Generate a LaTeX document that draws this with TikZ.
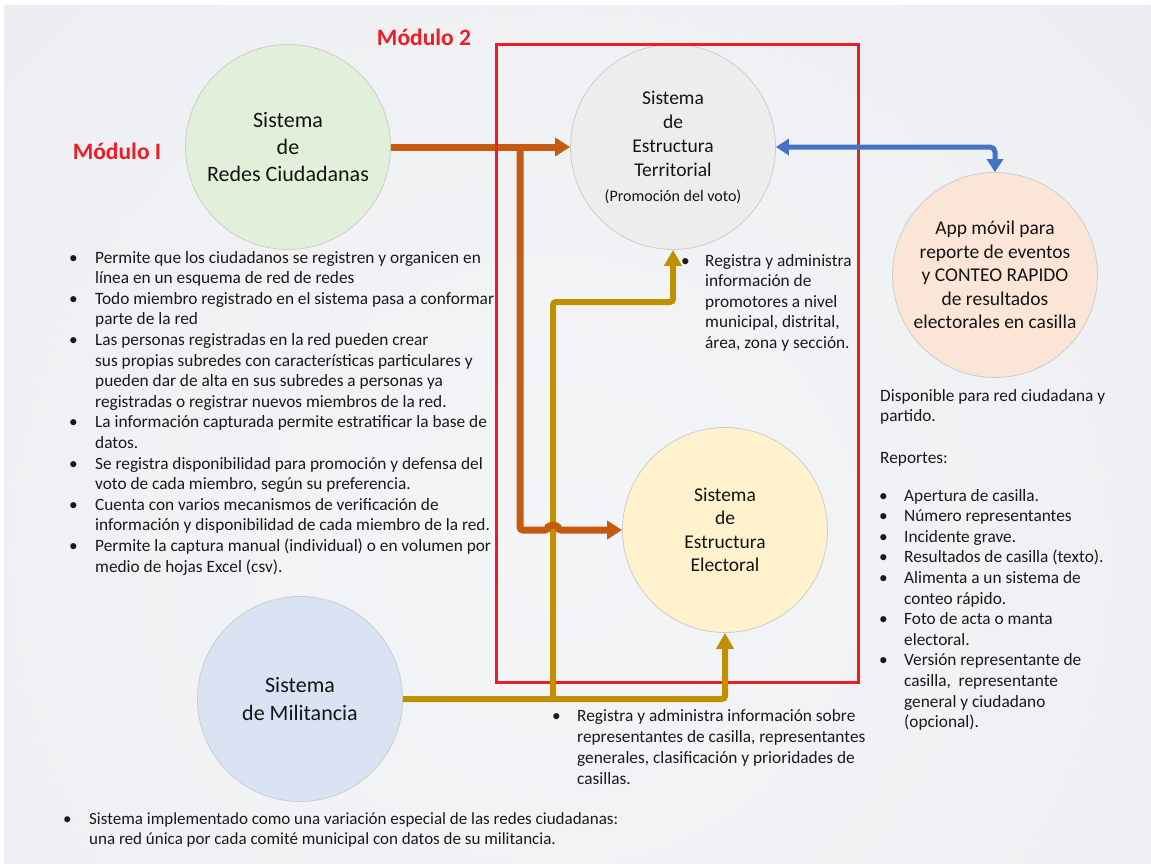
\documentclass[tikz,border=0pt]{standalone}
\usepackage{fontspec}
\setmainfont{Carlito}
\usetikzlibrary{arrows.meta}
\definecolor{orln}{HTML}{C55A11}
\definecolor{gdln}{HTML}{BF9000}
\definecolor{blln}{HTML}{4472C4}
\definecolor{mred}{HTML}{EE1C25}
\definecolor{cgreen}{HTML}{E2EFDA}
\definecolor{cgray}{HTML}{EDEDED}
\definecolor{cpeach}{HTML}{FBE5D6}
\definecolor{cyell}{HTML}{FFF2CC}
\definecolor{cblue}{HTML}{DAE3F3}
\definecolor{cborder}{HTML}{CDCDCD}
\definecolor{bgA}{HTML}{F4F5F7}
\definecolor{bgB}{HTML}{EFF0F3}
\definecolor{bgC}{HTML}{E7E9ED}
\definecolor{bgD}{HTML}{D8DCE2}
\definecolor{bgE}{HTML}{D2D6DD}
\pgfdeclareradialshading{bgshade}{\pgfpoint{0bp}{0bp}}{color(0bp)=(bgA); color(17bp)=(bgB); color(32bp)=(bgC); color(45bp)=(bgD); color(50bp)=(bgE)}
\newcommand\mybul[1]{\makebox[#1][l]{\textbullet}}
\newcommand\myind[1]{\hspace*{#1}}
\tikzset{
  sys/.style={circle, draw=cborder, line width=0.8pt, minimum size=205pt, inner sep=0pt, align=center, text=black!92},
  body/.style={font=\fontsize{17.3}{20.6}\selectfont, inner sep=0pt, anchor=base west, text=black!90},
  modlbl/.style={text=mred, font=\bfseries\fontsize{23.5}{27}\selectfont, inner sep=0pt},
  orarrow/.style={draw=orln, line width=7pt, -{Triangle[length=15pt,width=18pt]}},
  gdarrow/.style={draw=gdln, line width=6pt, rounded corners=3pt, -{Triangle[length=16pt,width=17pt]}},
  blarrow/.style={draw=blln, line width=5pt, rounded corners=5pt, {Triangle[length=13pt,width=16pt]}-{Triangle[length=13pt,width=16pt]}}
}
\begin{document}
\begin{tikzpicture}[x=1pt,y=-1pt]
\useasboundingbox (0,0) rectangle (1151,865);
\fill[white] (0,0) rectangle (1151,865);
\begin{scope}
\clip (4,5) rectangle (1151,863);
\shade[shading=bgshade] (-340,-340) rectangle (1460,1460);
\end{scope}

% circles
\node[sys, fill=cgreen, font=\fontsize{22}{27}\selectfont] (c1) at (288,147) {Sistema\\de\\Redes Ciudadanas};
\node[sys, fill=cgray, font=\fontsize{19.5}{24}\selectfont] (c2) at (673,147) {Sistema\\de\\Estructura\\Territorial\\[1pt]{\fontsize{16}{19}\selectfont (Promoción del voto)}};
\node[sys, fill=cpeach, font=\fontsize{19.5}{23.5}\selectfont] (c3) at (995,275) {App móvil para\\reporte de eventos\\y CONTEO RAPIDO\\de resultados\\electorales en casilla};
\node[sys, fill=cyell, font=\fontsize{19.5}{23.5}\selectfont] (c4) at (725,530) {Sistema\\de\\Estructura\\Electoral};
\node[sys, fill=cblue, font=\fontsize{22}{28}\selectfont] (c5) at (300,699) {Sistema\\de Militancia};

% labels
\node[modlbl] (m1) at (117,151) {Módulo I};
\node[modlbl] (m2) at (424,37) {Módulo 2};

% orange top arrow
\draw[orarrow] (c1.east) -- (c2.west);

% red module box
\draw[mred, line width=3pt] (496,44) rectangle (858,682);

% gold connectors
\coordinate (gj) at (553,699);
\coordinate (gt) at (553,302);
\draw[gdarrow] (c5.east) -| (c4.south);
\draw[gdarrow] (gj) -- (gt) -| (c2.south);

% orange branch with hop
\coordinate (oj) at (520,147);
\coordinate (hop) at (548,530);
\draw[orarrow, rounded corners=3pt] (oj) |- (hop) arc[start angle=180, end angle=0, radius=5pt] -- (c4.west);

% blue double arrow
\draw[blarrow] (c2.east) -| (c3.north);

% text blocks
\node[body] (t1) at (69,263) {\begin{tabular}[t]{@{}l@{}}
\mybul{26pt}Permite que los ciudadanos se registren y organicen en\\
\myind{26pt}línea en un esquema de red de redes\\
\mybul{26pt}Todo miembro registrado en el sistema pasa a conformar\\
\myind{26pt}parte de la red\\
\mybul{26pt}Las personas registradas en la red pueden crear\\
\myind{26pt}sus propias subredes con características particulares y\\
\myind{26pt}pueden dar de alta en sus subredes a personas ya\\
\myind{26pt}registradas o registrar nuevos miembros de la red.\\
\mybul{26pt}La información capturada permite estratificar la base de\\
\myind{26pt}datos.\\
\mybul{26pt}Se registra disponibilidad para promoción y defensa del\\
\myind{26pt}voto de cada miembro, según su preferencia.\\
\mybul{26pt}Cuenta con varios mecanismos de verificación de\\
\myind{26pt}información y disponibilidad de cada miembro de la red.\\
\mybul{26pt}Permite la captura manual (individual) o en volumen por\\
\myind{26pt}medio de hojas Excel (csv).
\end{tabular}};

\node[body] (t2) at (681,266) {\begin{tabular}[t]{@{}l@{}}
\mybul{24pt}Registra y administra\\
\myind{24pt}información de\\
\myind{24pt}promotores a nivel\\
\myind{24pt}municipal, distrital,\\
\myind{24pt}área, zona y sección.
\end{tabular}};

\node[body] (t3) at (880,401) {\begin{tabular}[t]{@{}l@{}}
Disponible para red ciudadana y\\
partido.
\end{tabular}};
\node[body] (t4) at (880,463) {Reportes:};
\node[body] (t5) at (879,501) {\begin{tabular}[t]{@{}l@{}}
\mybul{25pt}Apertura de casilla.\\
\mybul{25pt}Número representantes\\
\mybul{25pt}Incidente grave.\\
\mybul{25pt}Resultados de casilla (texto).\\
\mybul{25pt}Alimenta a un sistema de\\
\myind{25pt}conteo rápido.\\
\mybul{25pt}Foto de acta o manta\\
\myind{25pt}electoral.\\
\mybul{25pt}Versión representante de\\
\myind{25pt}casilla, \ representante\\
\myind{25pt}general y ciudadano\\
\myind{25pt}(opcional).
\end{tabular}};

\node[body, font=\fontsize{17.3}{21}\selectfont] (t6) at (552,721) {\begin{tabular}[t]{@{}l@{}}
\mybul{25pt}Registra y administra información sobre\\
\myind{25pt}representantes de casilla, representantes\\
\myind{25pt}generales, clasificación y prioridades de\\
\myind{25pt}casillas.
\end{tabular}};

\node[body, font=\fontsize{17}{20}\selectfont] (t7) at (63,824) {\begin{tabular}[t]{@{}l@{}}
\mybul{26pt}Sistema implementado como una variación especial de las redes ciudadanas:\\
\myind{26pt}una red única por cada comité municipal con datos de su militancia.
\end{tabular}};
\end{tikzpicture}
\end{document}
